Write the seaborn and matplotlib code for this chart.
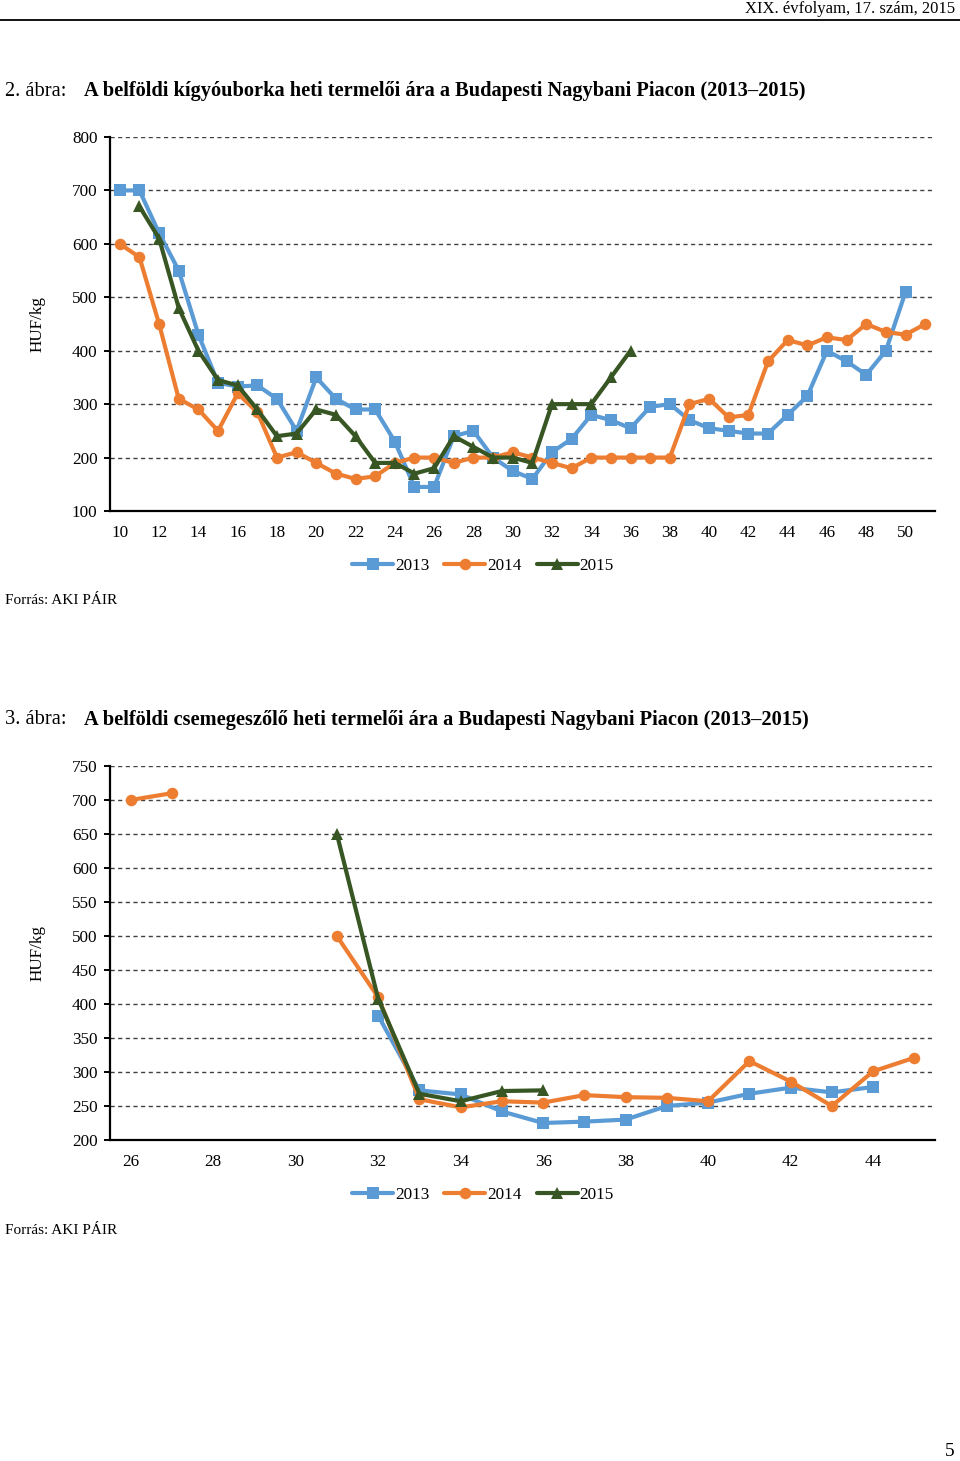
import numpy as np
import pandas as pd
import matplotlib
matplotlib.use("Agg")
import matplotlib.pyplot as plt
from matplotlib.lines import Line2D
import seaborn as sns

# ---------------- data ----------------
years = ["2013", "2014", "2015"]

# Chart 2: kígyóuborka (weeks 10..51)
weeks_top = list(range(10, 52))
top_2013 = [700, 700, 620, 550, 430, 340, 333, 335, 310, 250, 350, 310, 290, 290, 230, 145,
            145, 240, 250, 200, 175, 160, 210, 235, 280, 270, 255, 295, 300, 270, 255, 250,
            245, 245, 280, 315, 400, 380, 355, 400, 510, np.nan]
top_2014 = [600, 575, 450, 310, 290, 250, 320, 285, 200, 210, 190, 170, 160, 165, 190, 200,
            200, 190, 200, 200, 210, 200, 190, 180, 200, 200, 200, 200, 200, 300, 310, 275,
            280, 380, 420, 410, 425, 420, 450, 435, 430, 450]
top_2015 = [np.nan, 670, 610, 480, 400, 345, 335, 290, 240, 245, 290, 280, 240, 190, 190, 170,
            180, 240, 220, 200, 200, 190, 300, 300, 300, 350, 400] + [np.nan] * 15
top_xticks = list(range(10, 51, 2))
top_yticks = list(range(100, 801, 100))

# Chart 3: csemegeszőlő (weeks 26..45)
weeks_bot = list(range(26, 46))
bot_2013 = [np.nan] * 6 + [383, 273, 267, 242, 225, 227, 230, 250, 255, 268, 277, 270, 278, np.nan]
bot_2014 = [700, 710, np.nan, np.nan, np.nan, 500, 410, 260, 248, 257, 255, 266, 263, 262, 257,
            316, 286, 250, 301, 321]
bot_2015 = [np.nan] * 5 + [650, 408, 268, 257, 272, 273] + [np.nan] * 9
bot_xticks = list(range(26, 45, 2))
bot_yticks = list(range(200, 751, 50))

title2_num = "2. ábra:"
title2 = "A belföldi kígyóuborka heti termelői ára a Budapesti Nagybani Piacon (2013–2015)"
title3_num = "3. ábra:"
title3 = "A belföldi csemegeszőlő heti termelői ára a Budapesti Nagybani Piacon (2013–2015)"
header = "XIX. évfolyam, 17. szám, 2015"
source = "Forrás: AKI PÁIR"
ylabel = "HUF/kg"
page_no = "5"

colors = {"2013": "#5B9BD5", "2014": "#ED7D31", "2015": "#375623"}
markers = {"2013": "s", "2014": "o", "2015": "^"}
LW = 3.0
MS = 8.3


def long_df(weeks, series):
    rows = []
    for yr, vals in zip(years, series):
        seg = 0
        prev_nan = True
        for w, v in zip(weeks, vals):
            if v is None or (isinstance(v, float) and np.isnan(v)):
                prev_nan = True
                continue
            if prev_nan:
                seg += 1
                prev_nan = False
            rows.append({"week": w, "price": v, "year": yr, "seg": f"{yr}-{seg}"})
    return pd.DataFrame(rows)


# ---------------- style ----------------
sns.set_style("white")
plt.rcParams["font.family"] = ["Liberation Serif", "DejaVu Serif"]
plt.rcParams["text.color"] = "black"

W, H = 960, 1461
fig = plt.figure(figsize=(W / 100, H / 100), dpi=100)


def fx(x):
    return x / W


def fy(y):
    return 1 - y / H


def draw_chart(top_px, bottom_px, weeks, series, xticks, yticks, ylim):
    ax = fig.add_axes([fx(110), fy(bottom_px), fx(935) - fx(110), fy(top_px) - fy(bottom_px)])
    df = long_df(weeks, series)
    sns.lineplot(data=df, x="week", y="price", hue="year", style="year", units="seg",
                 estimator=None, palette=colors, markers=markers, dashes=False,
                 hue_order=years, style_order=years, linewidth=LW, markersize=MS,
                 markeredgewidth=0, legend=False, ax=ax, zorder=3)
    ax.set_xlim(weeks[0] - 0.5, weeks[-1] + 0.5)
    ax.set_ylim(*ylim)
    ax.set_xticks(xticks)
    ax.set_xticklabels([str(t) for t in xticks])
    ax.set_xticks(np.arange(weeks[0] - 0.5, weeks[-1] + 0.51, 1.0), minor=True)
    ax.set_yticks(yticks)
    ax.set_yticklabels([str(t) for t in yticks])
    ax.tick_params(axis="x", which="major", length=0, pad=10, labelsize=12.3, colors="black")
    ax.tick_params(axis="x", which="minor", length=5, width=1.4, direction="out", color="black")
    ax.tick_params(axis="y", which="major", length=4, width=1.4, direction="out", pad=5,
                   labelsize=12.3, colors="black", left=True)
    for s in ["top", "right"]:
        ax.spines[s].set_visible(False)
    for s in ["left", "bottom"]:
        ax.spines[s].set_color("black")
        ax.spines[s].set_linewidth(1.6)
        ax.spines[s].set_zorder(4)
    ax.yaxis.grid(True, color="#404040", linestyle=(0, (3, 2.5)), linewidth=1.0)
    ax.xaxis.grid(False)
    ax.set_axisbelow(True)
    ax.set_xlabel("")
    ax.set_ylabel("")
    fig.text(fx(38), fy((top_px + bottom_px) / 2), ylabel, rotation=90, ha="center",
             va="center", fontsize=12.3)
    return ax


def legend_at(ypx):
    handles = [Line2D([0], [0], color=colors[y], marker=markers[y], lw=LW, markersize=MS,
                      markeredgewidth=0) for y in years]
    fig.legend(handles, years, loc="center", bbox_to_anchor=(fx(483), fy(ypx)),
               ncol=3, frameon=False, fontsize=12.3, handlelength=2.4, handletextpad=0.1,
               columnspacing=0.9, borderpad=0)


# header
fig.text(fx(955), fy(9), header, ha="right", va="center", fontsize=12)
fig.add_artist(Line2D([0, 1], [fy(20), fy(20)], transform=fig.transFigure, color="black", lw=1.3))

# chart 2
fig.text(fx(5), fy(91), title2_num, ha="left", va="center", fontsize=14.7)
fig.text(fx(84), fy(91), title2, ha="left", va="center", fontsize=14.7, fontweight="bold")
draw_chart(137, 511, weeks_top, [top_2013, top_2014, top_2015], top_xticks, top_yticks, (100, 800))
legend_at(566)
fig.text(fx(5), fy(601), source, ha="left", va="center", fontsize=11)

# chart 3
fig.text(fx(5), fy(720), title3_num, ha="left", va="center", fontsize=14.7)
fig.text(fx(84), fy(720), title3, ha="left", va="center", fontsize=14.7, fontweight="bold")
draw_chart(766, 1140, weeks_bot, [bot_2013, bot_2014, bot_2015], bot_xticks, bot_yticks, (200, 750))
legend_at(1195)
fig.text(fx(5), fy(1230), source, ha="left", va="center", fontsize=11)

fig.text(fx(955), fy(1452), page_no, ha="right", va="center", fontsize=14)

fig.savefig("out.png", dpi=100, facecolor="white")
